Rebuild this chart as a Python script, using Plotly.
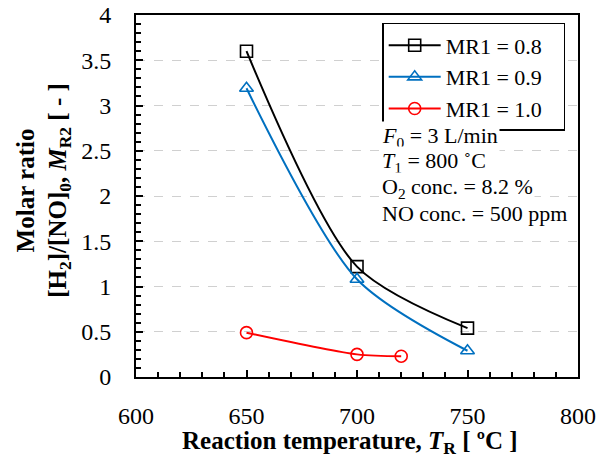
import plotly.graph_objects as go

temps_08 = [650, 700, 750]
mr_08 = [3.60, 1.22, 0.54]
temps_09 = [650, 700, 750]
mr_09 = [3.19, 1.08, 0.29]
temps_10 = [650, 700, 720]
mr_10 = [0.49, 0.25, 0.23]

x_ticks = [600, 650, 700, 750, 800]
y_ticks = [0, 0.5, 1, 1.5, 2, 2.5, 3, 3.5, 4]
y_tick_text = ["0", "0.5", "1", "1.5", "2", "2.5", "3", "3.5", "4"]

FONT = "Liberation Serif, Times New Roman, serif"
PAD = "\u00a0\u00a0\u00a0"

fig = go.Figure()
series = [
    (temps_08, mr_08, "MR1 = 0.8", "black", "square-open"),
    (temps_09, mr_09, "MR1 = 0.9", "#0070C0", "triangle-up-open"),
    (temps_10, mr_10, "MR1 = 1.0", "#FF0000", "circle-open"),
]
for xs, ys, name, col, sym in series:
    fig.add_trace(go.Scatter(
        x=xs, y=ys, name=name + PAD, mode="lines+markers",
        line=dict(color=col, width=2, shape="spline", smoothing=0.8),
        marker=dict(symbol=sym, size=12, color=col, line=dict(width=1.6, color=col)),
    ))

fig.update_layout(
    width=600, height=457,
    margin=dict(l=136, r=22, t=15, b=80),
    plot_bgcolor="white", paper_bgcolor="white",
    font=dict(family=FONT, size=22, color="black"),
    showlegend=True,
    legend=dict(
        x=0.557, y=0.978, xanchor="left", yanchor="top",
        bordercolor="black", borderwidth=1.5, bgcolor="white",
        font=dict(family=FONT, size=22), itemwidth=52,
        tracegroupgap=0,
    ),
)

fig.update_xaxes(
    range=[600, 800], tickvals=x_ticks, ticktext=[str(v) for v in x_ticks],
    showline=True, linecolor="black", linewidth=2, mirror=True,
    ticks="inside", ticklen=7, tickwidth=1.5, tickcolor="black",
    minor=dict(dtick=10, ticks="inside", ticklen=5, tickwidth=1.5, tickcolor="black"),
    showgrid=False, zeroline=False, automargin=False,
    tickfont=dict(family=FONT, size=24), ticklabelstandoff=16,
)
fig.update_yaxes(
    range=[0, 4], tickvals=y_ticks, ticktext=y_tick_text,
    showline=True, linecolor="black", linewidth=2, mirror=True,
    ticks="inside", ticklen=7, tickwidth=1.5, tickcolor="black",
    minor=dict(dtick=0.1, ticks="inside", ticklen=5, tickwidth=1.5, tickcolor="black", showgrid=False),
    showgrid=True, gridcolor="#d0d0d0", griddash="dash", gridwidth=1,
    zeroline=False, automargin=False, ticklabelstandoff=18,
    tickfont=dict(family=FONT, size=24),
)

# axis titles
fig.add_annotation(
    text="<b>Reaction temperature, <i>T</i><sub>R</sub> [ ºC ]</b>",
    x=0.484, y=-0.18, xref="paper", yref="paper", xanchor="center", yanchor="middle",
    showarrow=False, font=dict(family=FONT, size=25))
fig.add_annotation(
    text="<b>Molar ratio<br>[H<sub>2</sub>]/[NO]<sub>0</sub>, <i>M</i><sub>R2</sub> [ - ]</b>",
    x=-0.21, y=0.515, xref="paper", yref="paper", xanchor="center", yanchor="middle",
    textangle=-90, showarrow=False, font=dict(family=FONT, size=25))

notes = [
    ("<i>F</i><sub>0</sub> = 3 L/min", 0.663),
    ("<i>T</i><sub>1</sub> = 800 ˚C", 0.594),
    ("O<sub>2</sub> conc. = 8.2 %", 0.522),
    ("NO conc. = 500 ppm", 0.453),
]
for txt, yy in notes:
    fig.add_annotation(text=txt, x=0.552, y=yy, xref="paper", yref="paper",
                       xanchor="left", yanchor="middle", showarrow=False,
                       font=dict(family=FONT, size=22), bgcolor="white")

fig.write_html("out.html", config={"displayModeBar": False},
               post_script="document.body.style.margin='0';document.body.style.overflow='hidden';")
